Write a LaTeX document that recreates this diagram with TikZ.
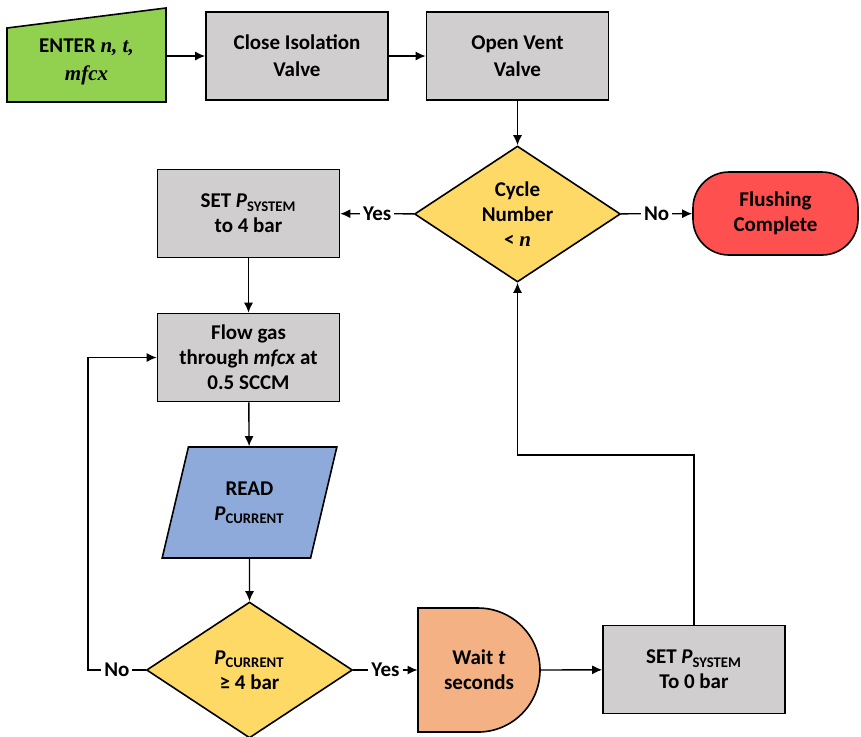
\documentclass[tikz,border=0pt]{standalone}
\usepackage{fontspec}
\setmainfont{Carlito}
\newfontfamily\varfont{Liberation Serif}
\usepackage{tikz}
\usetikzlibrary{arrows.meta}
\usetikzlibrary{shapes.geometric}
\tikzset{>={Latex[length=5pt,width=4.5pt]}}

\definecolor{boxgray}{RGB}{208,206,206}
\definecolor{inputgreen}{RGB}{146,208,80}
\definecolor{decyellow}{RGB}{255,217,102}
\definecolor{endred}{RGB}{255,80,80}
\definecolor{readblue}{RGB}{142,170,219}
\definecolor{waitorange}{RGB}{244,177,131}

\newcommand{\invar}[1]{{\varfont\bfseries\itshape #1}}
\newcommand{\pvar}[1]{\textit{P}\textsubscript{#1}}

\begin{document}
\begin{tikzpicture}[x=0.5pt,y=-0.5pt,
    font=\fontsize{10.5}{12.5}\selectfont\bfseries,
    process/.style={rectangle, draw, line width=0.8pt, fill=boxgray, minimum width=91pt, minimum height=44pt, align=center},
    decision/.style={diamond, draw, line width=0.8pt, fill=decyellow, aspect=1.5, inner sep=0pt, minimum width=103pt, minimum height=68pt, align=center},
    answer/.style={fill=white, inner sep=1.5pt},
    flow/.style={line width=0.7pt}]
    \useasboundingbox (0,0) rectangle (861,736);
    % Manual input of the parameters.
    \filldraw[fill=inputgreen, line width=0.8pt] (7,102) -- (7,28) -- (166,8) -- (166,102) -- cycle;
    \node (enter) [minimum width=79.5pt, minimum height=40pt, align=center, font=\fontsize{10.5}{14}\selectfont\bfseries] at (86.5,62) {ENTER \invar{n, t,}\\\invar{mfcx}};
    % Preparing the system.
    \node[process, font=\fontsize{10.5}{13.5}\selectfont\bfseries] (close) at (297,56) {Close Isolation\\Valve};
    \node[process, font=\fontsize{10.5}{13.5}\selectfont\bfseries] (vent) at (517.5,56) {Open Vent\\Valve};
    \node[decision] (cycle) at (517.5,214) {Cycle\\Number\\< \invar{n}};
    \node (flush) [rectangle, rounded corners=18pt, draw, line width=0.8pt, fill=endred, minimum width=82.5pt, minimum height=41.5pt, align=center] at (775.5,213.5) {Flushing\\Complete};
    % One flushing cycle.
    \node[process] (setfour) at (248.5,213.5) {SET \pvar{SYSTEM}\\to 4 bar};
    \node[process] (flow) at (248.5,357.5) {Flow gas\\through \textit{mfcx} at\\0.5 SCCM};
    \node (read) [trapezium, trapezium left angle=72, trapezium right angle=108, trapezium stretches=true, draw, line width=0.8pt, fill=readblue, minimum width=87.5pt, minimum height=55.5pt, align=center] at (249.5,502.5) {READ\\\pvar{CURRENT}};
    \node[decision] (check) at (249.5,670) {\pvar{CURRENT}\\≥ 4 bar};
    % Delay shape, the text goes on top.
    \filldraw[fill=waitorange, line width=0.8pt] (418,732) -- (418,608) [rounded corners=31pt] -- (540,608) -- (540,732) [sharp corners] -- cycle;
    \node (wait) [minimum width=61pt, minimum height=62pt, align=center] at (479,670) {Wait \textit{t}\\seconds};
    \node[process] (setzero) at (694,669.5) {SET \pvar{SYSTEM}\\To 0 bar};
    \coordinate (noturn) at (88,670);
    \coordinate (backturn) at (694,455);
    % Connectors.
    \draw[flow,->] (enter.east |- close.west) -- (close.west);
    \draw[flow,->] (close) -- (vent);
    \draw[flow,->] (vent) -- (cycle);
    \draw[flow,->] (cycle) -- node[answer] {No} (flush);
    \draw[flow,->] (cycle) -- node[answer] {Yes} (setfour);
    \draw[flow,->] (setfour) -- (flow);
    \draw[flow,->] (flow) -- (read);
    \draw[flow,->] (read) -- (check);
    \draw[flow,->] (check) -- node[answer] {Yes} (wait.west);
    \draw[flow,->] (check.west) -- node[answer] {No} (noturn) |- (flow.west);
    \draw[flow,->] (wait.east) -- (setzero);
    \draw[flow,->] (setzero) -- (backturn) -| (cycle.south);
\end{tikzpicture}
\end{document}
